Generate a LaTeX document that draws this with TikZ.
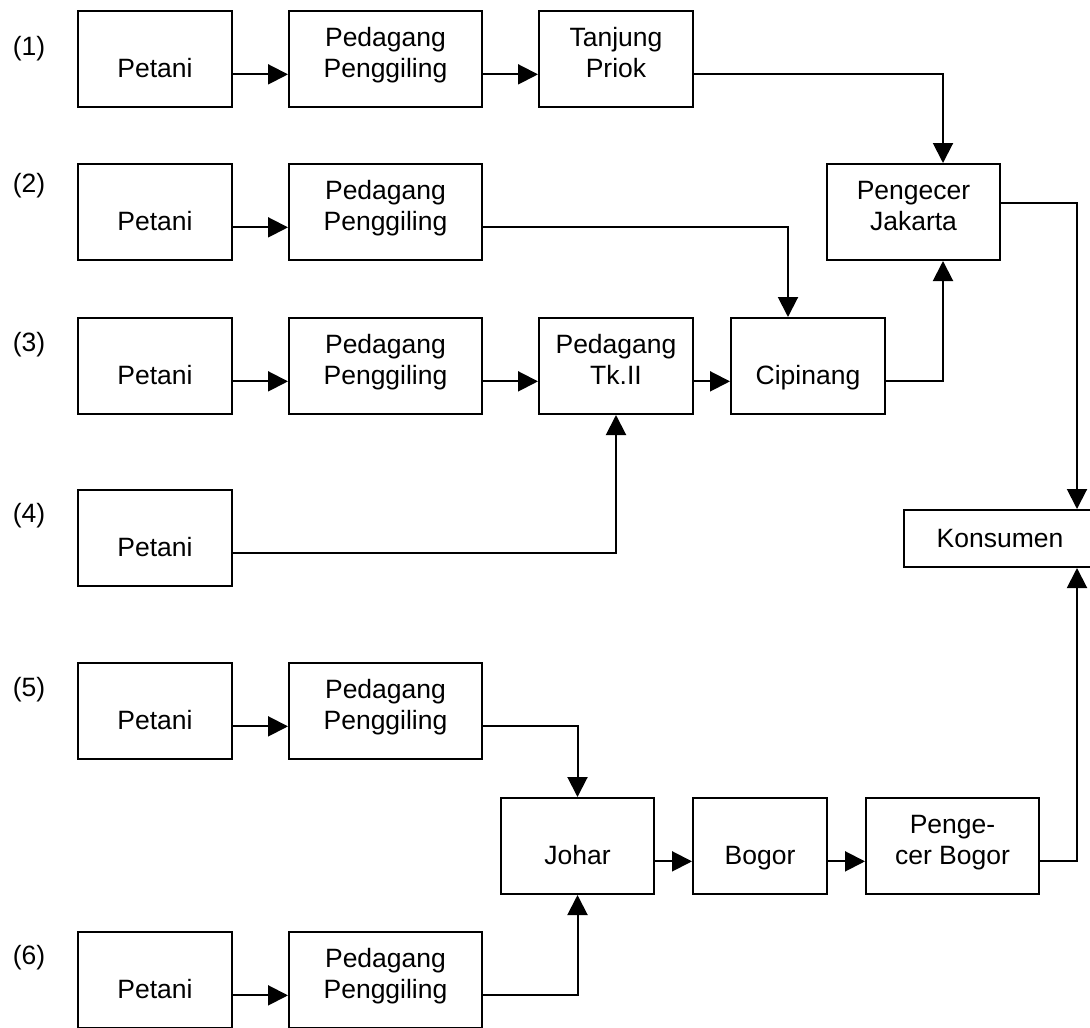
\documentclass[tikz,border=0pt]{standalone}
\usepackage{fontspec}
\setmainfont{Liberation Sans}
\usetikzlibrary{arrows.meta}

\tikzset{
  stage/.style={draw, line width=2pt, align=center, inner xsep=2pt, inner ysep=0pt,
    minimum height=96pt, text height=66pt, text depth=30pt},
  endbox/.style={draw, line width=2pt, inner sep=0pt, minimum height=57pt},
  flow/.style={line width=2pt, -{Triangle[length=20pt,width=20pt]}},
  rowno/.style={inner sep=0pt}
}

\begin{document}
\begin{tikzpicture}[x=1pt, y=-1pt,
  font=\fontsize{26.5}{31}\selectfont]
  \useasboundingbox (0,0) rectangle (1090,1028);
  \node[rowno] (n1) at (29,49) {(1)};
  \node[rowno] (n2) at (29,186) {(2)};
  \node[rowno] (n3) at (29,345) {(3)};
  \node[rowno] (n4) at (29,516) {(4)};
  \node[rowno] (n5) at (29,690) {(5)};
  \node[rowno] (n6) at (29,958) {(6)};
  \node[stage, minimum width=154pt] (petani1) at (155,59) {Petani};
  \node[stage, minimum width=193pt] (giling1) at (385.5,59) {Pedagang\\Penggiling};
  \node[stage, minimum width=154pt] (priok) at (616,59) {Tanjung\\Priok};
  \node[stage, minimum width=154pt] (petani2) at (155,212) {Petani};
  \node[stage, minimum width=193pt] (giling2) at (385.5,212) {Pedagang\\Penggiling};
  \node[stage, minimum width=173pt] (ecerjkt) at (913.5,212) {Pengecer\\Jakarta};
  \node[stage, minimum width=154pt] (petani3) at (155,366) {Petani};
  \node[stage, minimum width=193pt] (giling3) at (385.5,366) {Pedagang\\Penggiling};
  \node[stage, minimum width=154pt] (tkdua) at (616,366) {Pedagang\\Tk.II};
  \node[stage, minimum width=154pt] (cipinang) at (808,366) {Cipinang};
  \node[stage, minimum width=154pt] (petani4) at (155,538) {Petani};
  \node[endbox, minimum width=192pt] (konsumen) at (1000,538.5) {Konsumen};
  \node[stage, minimum width=154pt] (petani5) at (155,711) {Petani};
  \node[stage, minimum width=193pt] (giling5) at (385.5,711) {Pedagang\\Penggiling};
  \node[stage, minimum width=153pt] (johar) at (577.5,846) {Johar};
  \node[stage, minimum width=134pt] (bogor) at (760,846) {Bogor};
  \node[stage, minimum width=173pt] (ecerbgr) at (952.5,846) {Penge-\\cer Bogor};
  \node[stage, minimum width=154pt] (petani6) at (155,980) {Petani};
  \node[stage, minimum width=193pt] (giling6) at (385.5,980) {Pedagang\\Penggiling};
  \draw[flow]
    (petani1.mid east)
    --
    (giling1.mid west);
  \draw[flow]
    (giling1.mid east)
    --
    (priok.mid west);
  \draw[flow]
    (priok.mid east)
    -|
    ([xshift=29.5pt]ecerjkt.north);
  \draw[flow]
    (petani2.mid east)
    --
    (giling2.mid west);
  \draw[flow]
    (giling2.mid east)
    -|
    ([xshift=-20pt]cipinang.north);
  \draw[flow]
    (petani3.mid east)
    --
    (giling3.mid west);
  \draw[flow]
    (giling3.mid east)
    --
    (tkdua.mid west);
  \draw[flow]
    (tkdua.mid east)
    --
    (cipinang.mid west);
  \draw[flow]
    (cipinang.mid east)
    -|
    ([xshift=29.5pt]ecerjkt.south);
  \draw[flow]
    (petani4.mid east)
    -|
    (tkdua.south);
  \draw[flow]
    ([yshift=9pt]ecerjkt.east)
    -|
    ([xshift=77pt]konsumen.north);
  \draw[flow]
    (petani5.mid east)
    --
    (giling5.mid west);
  \draw[flow]
    (giling5.mid east)
    -|
    (johar.north);
  \draw[flow]
    (petani6.mid east)
    --
    (giling6.mid west);
  \draw[flow]
    (giling6.mid east)
    -|
    (johar.south);
  \draw[flow]
    (johar.mid east)
    --
    (bogor.mid west);
  \draw[flow]
    (bogor.mid east)
    --
    (ecerbgr.mid west);
  \draw[flow]
    (ecerbgr.mid east)
    -|
    ([xshift=77pt]konsumen.south);
\end{tikzpicture}
\end{document}
